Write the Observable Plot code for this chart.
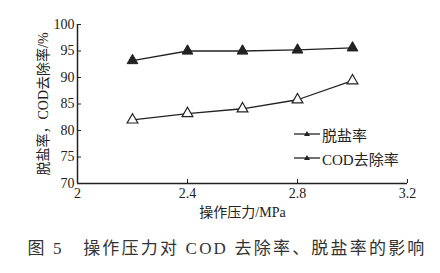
<!DOCTYPE html>
<html><head><meta charset="utf-8">
<script src="https://cdn.jsdelivr.net/npm/d3@7"></script>
<script src="https://cdn.jsdelivr.net/npm/@observablehq/plot@0.6"></script>
<style>
body{margin:0;background:#fff;width:440px;height:273px;overflow:hidden;position:relative;}
#legend{position:absolute;left:294px;top:122px;font-family:"Liberation Serif","Noto Sans CJK SC",serif;font-size:15px;color:#222;}
.row{display:flex;align-items:center;height:24px;}
.row svg{margin-right:2px;}
#caption{position:absolute;left:7px;top:225px;width:440px;height:48px;line-height:48px;text-align:center;font-family:"Liberation Serif","Noto Sans CJK SC",serif;font-size:17px;color:#333;letter-spacing:2.2px;white-space:pre;}
</style></head><body>
<div id="chart"></div>
<div id="legend"></div>
<div id="caption"></div>
<script>
const pressure = [2.2, 2.4, 2.6, 2.8, 3.0];
const desalination = [93.2, 95.0, 95.0, 95.2, 95.6];
const codRemoval = [82.0, 83.2, 84.1, 85.8, 89.4];
const xTicks = [2, 2.4, 2.8, 3.2];
const yTicks = [70, 75, 80, 85, 90, 95, 100];
const seriesNames = ["脱盐率", "COD去除率"];
const xLabel = "操作压力/MPa";
const yLabel = "脱盐率，COD去除率/%";
const captionText = "图 5   操作压力对 COD 去除率、脱盐率的影响";

const desal = pressure.map((x, i) => ({x, y: desalination[i]}));
const cod = pressure.map((x, i) => ({x, y: codRemoval[i]}));
const ink = "#222";
const font = "'Liberation Serif', 'Noto Sans CJK SC', serif";

const chart = Plot.plot({
  width: 440, height: 225,
  marginLeft: 77, marginRight: 33, marginTop: 24, marginBottom: 42,
  style: {fontFamily: font, fontSize: "14px", color: ink, background: "transparent"},
  x: {domain: [2, 3.2]},
  y: {domain: [70, 100]},
  marks: [
    Plot.axisY({ticks: yTicks, tickSize: 4, insetLeft: 4, tickPadding: 3, fontSize: 14, fontFamily: font,
      label: yLabel, labelAnchor: "center", labelOffset: 39, labelArrow: "none"}),
    Plot.axisX({ticks: xTicks, tickFormat: d => String(d), tickSize: 4, insetBottom: 4, tickPadding: 5, fontSize: 14, fontFamily: font,
      label: xLabel, labelAnchor: "center", labelOffset: 33, labelArrow: "none"}),
    Plot.ruleX([2], {stroke: ink, strokeWidth: 1.5}),
    Plot.ruleY([70], {stroke: ink, strokeWidth: 1.5}),
    Plot.line(desal, {x: "x", y: "y", stroke: ink, strokeWidth: 1.3}),
    Plot.line(cod, {x: "x", y: "y", stroke: ink, strokeWidth: 1.3}),
    Plot.dot(desal, {x: "x", y: "y", symbol: "triangle", r: 4, fill: ink, stroke: ink, strokeWidth: 1}),
    Plot.dot(cod, {x: "x", y: "y", symbol: "triangle", r: 4, fill: "white", stroke: ink, strokeWidth: 1.2})
  ]
});
document.getElementById("chart").appendChild(chart);

const legend = document.getElementById("legend");
seriesNames.forEach(name => {
  const row = document.createElement("div");
  row.className = "row";
  row.innerHTML = `<svg width="26" height="10"><line x1="0" y1="5" x2="26" y2="5" stroke="${ink}" stroke-width="1.3"/><path d="M13,2 L16,7 L10,7 Z" fill="${ink}"/></svg><span>${name}</span>`;
  legend.appendChild(row);
});
document.getElementById("caption").textContent = captionText;
</script>
</body></html>
